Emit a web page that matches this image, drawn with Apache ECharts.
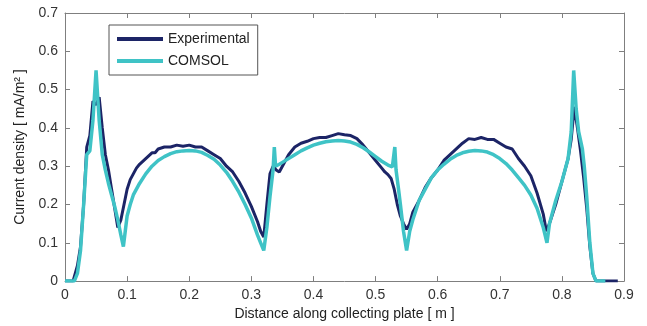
<!DOCTYPE html>
<html>
<head>
<meta charset="utf-8">
<script src="https://cdn.jsdelivr.net/npm/echarts@6/dist/echarts.min.js"></script>
<style>
  html, body { margin: 0; padding: 0; background: #fff; }
  #chart { width: 647px; height: 326px; }
</style>
</head>
<body>
<div id="chart"></div>
<script>
// measured (dark blue) curve
const expX = [0, 0.013, 0.02, 0.025, 0.03, 0.035, 0.04, 0.045, 0.05, 0.055, 0.06, 0.065, 0.07, 0.075, 0.08, 0.085, 0.09, 0.095,
  0.1, 0.105, 0.11, 0.115, 0.12, 0.13, 0.14, 0.145, 0.15, 0.16, 0.17, 0.18, 0.19, 0.2, 0.21, 0.22, 0.23, 0.24, 0.25, 0.26, 0.27,
  0.28, 0.29, 0.3, 0.31, 0.315, 0.32, 0.325, 0.33, 0.335, 0.34, 0.345, 0.35, 0.36, 0.37, 0.38, 0.39, 0.4, 0.41, 0.42, 0.43, 0.44,
  0.45, 0.46, 0.47, 0.48, 0.49, 0.5, 0.51, 0.515, 0.52, 0.525, 0.53, 0.535, 0.54, 0.545, 0.55, 0.555, 0.56, 0.57, 0.58, 0.59,
  0.6, 0.61, 0.62, 0.63, 0.64, 0.65, 0.66, 0.67, 0.68, 0.69, 0.7, 0.71, 0.72, 0.73, 0.74, 0.75, 0.76, 0.77, 0.775, 0.78, 0.79,
  0.8, 0.81, 0.815, 0.82, 0.825, 0.83, 0.835, 0.84, 0.845, 0.85, 0.855, 0.87, 0.89];
const expY = [0, 0, 0.04, 0.09, 0.2, 0.35, 0.38, 0.47, 0.46, 0.48, 0.4, 0.33, 0.29, 0.24, 0.19, 0.14, 0.16, 0.2,
  0.24, 0.265, 0.28, 0.295, 0.305, 0.32, 0.335, 0.335, 0.345, 0.35, 0.35, 0.355, 0.352, 0.355, 0.35, 0.35, 0.34, 0.33, 0.32, 0.3, 0.285,
  0.26, 0.23, 0.195, 0.155, 0.13, 0.115, 0.2, 0.28, 0.3, 0.29, 0.285, 0.3, 0.33, 0.35, 0.36, 0.365, 0.372, 0.375, 0.375, 0.38, 0.385,
  0.382, 0.38, 0.372, 0.355, 0.335, 0.315, 0.295, 0.285, 0.278, 0.268, 0.24, 0.2, 0.17, 0.15, 0.135, 0.15, 0.18, 0.21, 0.245, 0.27,
  0.29, 0.315, 0.33, 0.345, 0.36, 0.372, 0.37, 0.375, 0.37, 0.37, 0.36, 0.35, 0.345, 0.32, 0.3, 0.275, 0.23, 0.175, 0.13, 0.15, 0.2,
  0.26, 0.32, 0.37, 0.455, 0.4, 0.34, 0.27, 0.19, 0.09, 0.02, 0, 0, 0];

// simulation (cyan) curve
const comX = [0, 0.015, 0.02, 0.025, 0.03, 0.035, 0.04, 0.045, 0.05, 0.055, 0.06, 0.065, 0.07, 0.075, 0.08, 0.085, 0.09, 0.094, 0.097,
  0.1, 0.105, 0.11, 0.12, 0.13, 0.14, 0.15, 0.16, 0.17, 0.18, 0.19, 0.2, 0.21, 0.22, 0.23, 0.24, 0.25, 0.26, 0.27, 0.28, 0.29,
  0.3, 0.31, 0.315, 0.32, 0.325, 0.33, 0.335, 0.337, 0.339, 0.345, 0.35, 0.36, 0.37, 0.38, 0.39, 0.4, 0.41, 0.42, 0.43, 0.44,
  0.45, 0.46, 0.47, 0.48, 0.49, 0.5, 0.51, 0.52, 0.527, 0.531, 0.533, 0.537, 0.54, 0.545, 0.55, 0.555, 0.56, 0.57, 0.58, 0.59,
  0.6, 0.61, 0.62, 0.63, 0.64, 0.65, 0.66, 0.67, 0.68, 0.69, 0.7, 0.71, 0.72, 0.73, 0.74, 0.75, 0.76, 0.77, 0.776, 0.78, 0.79,
  0.8, 0.81, 0.815, 0.819, 0.823, 0.827, 0.833, 0.836, 0.84, 0.845, 0.85, 0.855, 0.87];
const comY = [0, 0, 0.02, 0.08, 0.2, 0.33, 0.34, 0.42, 0.55, 0.42, 0.33, 0.29, 0.255, 0.225, 0.195, 0.16, 0.12, 0.09, 0.13,
  0.17, 0.2, 0.225, 0.255, 0.28, 0.3, 0.315, 0.325, 0.333, 0.338, 0.34, 0.341, 0.34, 0.336, 0.328, 0.318, 0.303, 0.284, 0.26, 0.232, 0.2,
  0.165, 0.12, 0.1, 0.08, 0.14, 0.22, 0.29, 0.35, 0.3, 0.305, 0.31, 0.32, 0.33, 0.34, 0.348, 0.355, 0.36, 0.364, 0.366, 0.367,
  0.366, 0.363, 0.357, 0.348, 0.337, 0.325, 0.313, 0.303, 0.298, 0.35, 0.29, 0.24, 0.2, 0.13, 0.08, 0.13, 0.16, 0.21, 0.24, 0.27,
  0.29, 0.305, 0.318, 0.328, 0.335, 0.339, 0.341, 0.34, 0.337, 0.33, 0.32, 0.307, 0.29, 0.27, 0.25, 0.225, 0.19, 0.14, 0.1, 0.15, 0.21,
  0.26, 0.32, 0.39, 0.55, 0.45, 0.39, 0.345, 0.3, 0.22, 0.1, 0.02, 0, 0];

const seriesNames = ['Experimental', 'COMSOL'];
const xName = 'Distance along collecting plate [ m ]';
const yName = 'Current density [ mA/m\u00B2 ]';

const pairs = (xs, ys) => xs.map((x, i) => [x, ys[i]]);

const font = 'Liberation Sans, Arial, sans-serif';
const frame = { show: true, onZero: false, lineStyle: { color: '#7f7f7f', width: 1 } };
const inTick = { inside: true, length: 5, lineStyle: { color: '#7f7f7f' } };

const option = {
  animation: false,
  backgroundColor: '#fff',
  grid: { left: 65, right: 23, top: 13, bottom: 43 },
  legend: {
    orient: 'vertical',
    left: 109, top: 25,
    data: seriesNames,
    icon: 'rect',
    itemWidth: 46, itemHeight: 4,
    itemGap: 8,
    padding: [7, 8, 7, 8],
    borderColor: '#555', borderWidth: 1,
    backgroundColor: '#fff',
    textStyle: { fontFamily: font, fontSize: 14, color: '#222' }
  },
  xAxis: [
    {
      type: 'value', min: 0, max: 0.9, interval: 0.1,
      name: xName, nameLocation: 'middle', nameGap: 23,
      nameTextStyle: { fontFamily: font, fontSize: 14, color: '#222' },
      axisLine: frame, axisTick: inTick,
      axisLabel: { fontFamily: font, fontSize: 14, color: '#333', margin: 7 },
      splitLine: { show: false }
    },
    {
      type: 'value', position: 'top', min: 0, max: 0.9, interval: 0.1,
      axisLine: frame, axisTick: inTick, axisLabel: { show: false }, splitLine: { show: false }
    }
  ],
  yAxis: [
    {
      type: 'value', min: 0, max: 0.7, interval: 0.1,
      name: yName, nameLocation: 'middle', nameGap: 34,
      nameTextStyle: { fontFamily: font, fontSize: 14, color: '#222' },
      axisLine: frame, axisTick: inTick,
      axisLabel: { fontFamily: font, fontSize: 14, color: '#333', margin: 7 },
      splitLine: { show: false }
    },
    {
      type: 'value', position: 'right', min: 0, max: 0.7, interval: 0.1,
      axisLine: frame, axisTick: inTick, axisLabel: { show: false }, splitLine: { show: false }
    }
  ],
  series: [
    {
      name: seriesNames[0], type: 'line', data: pairs(expX, expY),
      showSymbol: false, color: '#1c2466',
      lineStyle: { width: 3, color: '#1c2466' }
    },
    {
      name: seriesNames[1], type: 'line', data: pairs(comX, comY),
      showSymbol: false, color: '#3fc3c6',
      lineStyle: { width: 3.5, color: '#3fc3c6' }
    }
  ]
};

const myChart = echarts.init(document.getElementById('chart'));
myChart.setOption(option);
</script>
</body>
</html>
